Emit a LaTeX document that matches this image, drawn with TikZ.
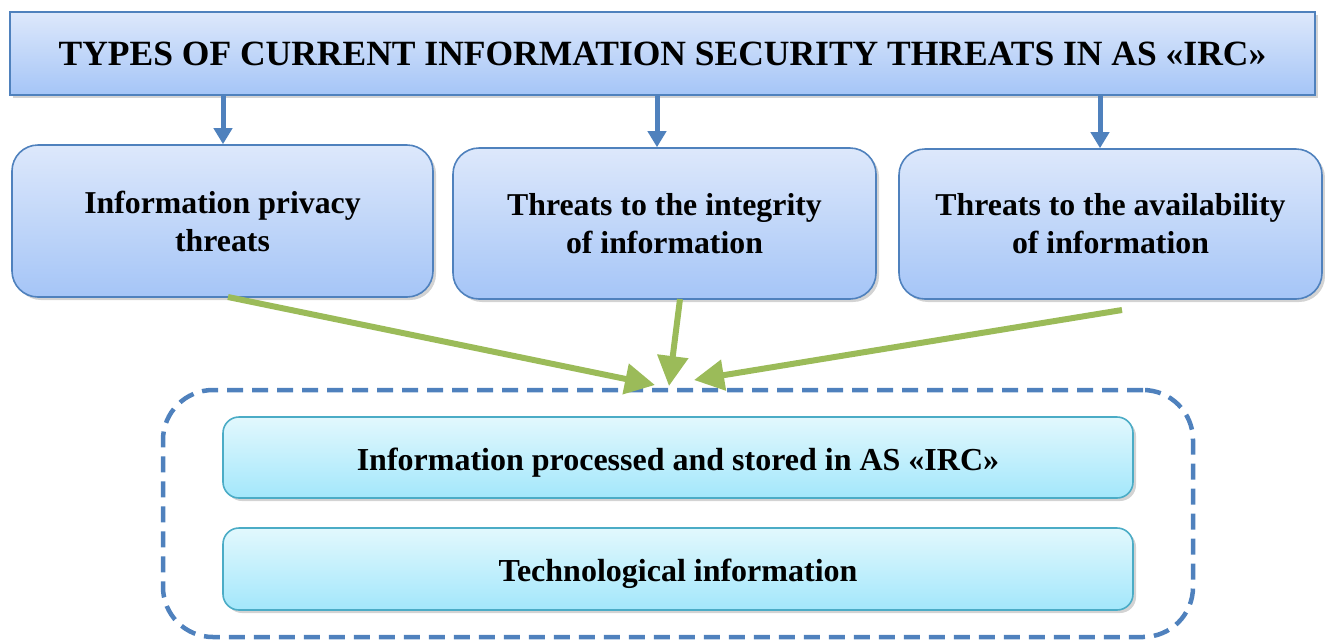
\documentclass[tikz,border=0pt]{standalone}
\usepackage{fontspec}
\setmainfont{Liberation Serif}
\usetikzlibrary{arrows.meta,shadows}
\definecolor{bblue}{HTML}{4F81BD}
\definecolor{btop}{HTML}{DDE8FB}
\definecolor{bbot}{HTML}{A5C5F7}
\definecolor{ctop}{HTML}{E2F8FD}
\definecolor{cbot}{HTML}{A3E7FB}
\definecolor{cedge}{HTML}{4BACC6}
\definecolor{agreen}{HTML}{9BBB59}
\tikzset{
  titlebox/.style={draw=bblue, line width=2pt, top color=btop, bottom color=bbot,
    minimum width=1305pt, minimum height=83pt, inner sep=0pt,
    drop shadow={shadow xshift=3pt, shadow yshift=-3pt, opacity=0.35},
    font=\fontsize{35.5}{40}\selectfont\bfseries},
  threatbox/.style={draw=bblue, line width=1.6pt, top color=btop, bottom color=bbot,
    rounded corners=26pt, inner sep=0pt, align=center,
    drop shadow={shadow xshift=3pt, shadow yshift=-3pt, opacity=0.35},
    font=\fontsize{31.8}{38}\selectfont\bfseries},
  infobox/.style={draw=cedge, line width=1.6pt, top color=ctop, bottom color=cbot,
    rounded corners=16pt, inner sep=0pt, minimum width=910pt,
    text height=25pt, text depth=0pt,
    drop shadow={shadow xshift=3pt, shadow yshift=-3pt, opacity=0.35},
    font=\fontsize{32}{38}\selectfont\bfseries},
  grouprect/.style={draw=bblue, line width=4.5pt, dash pattern=on 16pt off 9pt,
    rounded corners=50pt, minimum width=1030pt, minimum height=247pt},
  bluearrow/.style={draw=bblue, line width=5pt, -{Triangle[length=16pt,width=18pt]}},
  greenarrow/.style={draw=agreen, line width=6pt, -{Triangle[length=30pt,width=30pt]}}
}
\begin{document}
\begin{tikzpicture}[x=1pt,y=-1pt]
\useasboundingbox (0,0) rectangle (1325,641);
\node[grouprect] (group) at (678,513.5) {};
\node[titlebox] (title) at (662.5,53.5) {TYPES OF CURRENT INFORMATION SECURITY THREATS IN AS «IRC»};
\node[threatbox, minimum width=421pt, minimum height=152pt] (t1) at (222.5,221) {Information privacy\\threats};
\node[threatbox, minimum width=423pt, minimum height=151pt] (t2) at (664.5,223.5) {Threats to the integrity\\of information};
\node[threatbox, minimum width=423pt, minimum height=150pt] (t3) at (1110.5,224) {Threats to the availability\\of information};
\node[infobox, minimum height=81pt] (i1) at (678,457.5) {Information processed and stored in AS «IRC»};
\node[infobox, minimum height=82pt] (i2) at (678,569) {Technological information};
\draw[bluearrow] (title.south -| t1.north) ++(0.5,0) coordinate (a1s) -- (a1s |- t1.north);
\draw[bluearrow] (title.south -| t2.north) ++(-7.5,0) coordinate (a2s) -- (a2s |- t2.north);
\draw[bluearrow] (title.south -| t3.north) ++(-10.5,0) coordinate (a3s) -- (a3s |- t3.north);
\coordinate (g1s) at (228,297);
\coordinate (g1e) at (655,385);
\coordinate (g2s) at (680,299);
\coordinate (g2e) at (669,386);
\coordinate (g3s) at (1122,310);
\coordinate (g3e) at (694,380);
\draw[greenarrow] (g1s) -- (g1e);
\draw[greenarrow] (g2s) -- (g2e);
\draw[greenarrow] (g3s) -- (g3e);
\end{tikzpicture}
\end{document}
